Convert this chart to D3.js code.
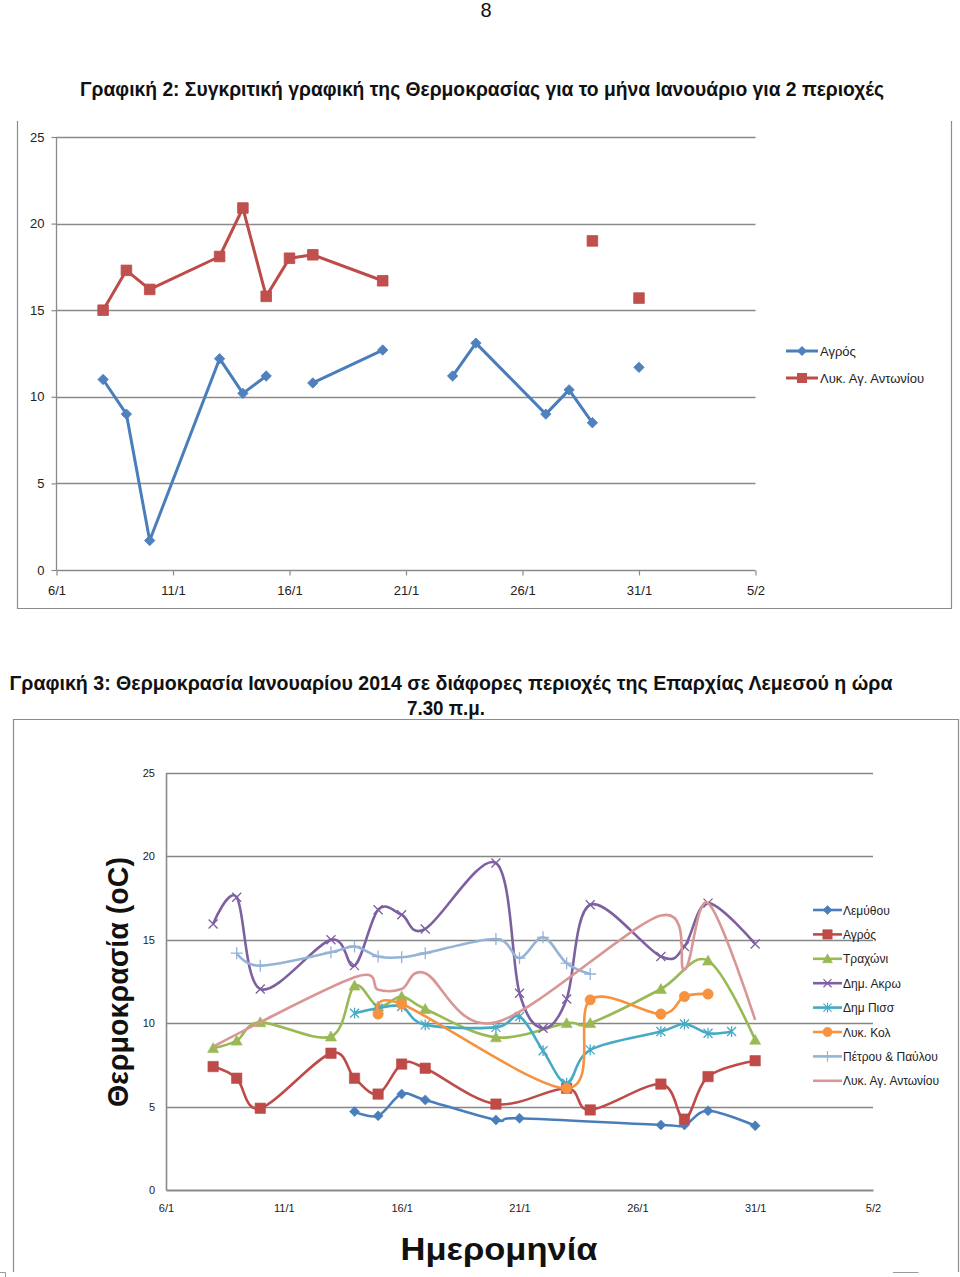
<!DOCTYPE html>
<html><head><meta charset="utf-8">
<script src="https://cdn.jsdelivr.net/npm/d3@7"></script>
<style>body{margin:0;background:#fff}svg{display:block}</style>
</head><body>
<script>
// ---------- shared axis data ----------
const tickDays = [6, 11, 16, 21, 26, 31, 36];
const tickLabels = ["6/1", "11/1", "16/1", "21/1", "26/1", "31/1", "5/2"];
const yTicks = [0, 5, 10, 15, 20, 25];

// ---------- Chart 2 data ----------
const c2Title = "Γραφική 2: Συγκριτική γραφική της Θερμοκρασίας για το μήνα Ιανουάριο για 2 περιοχές";
const c2Days = [8, 9, 10, 13, 14, 15, 16, 17, 20, 21, 23, 24, 27, 28, 29, 30, 31];
const c2Agros = [11.0, 9.0, 1.7, 12.2, 10.2, 11.2, null, 10.8, 12.7, null, 11.2, 13.1, 9.0, 10.4, 8.5, null, 11.7];
const c2Antoniou = [15.0, 17.3, 16.2, 18.1, 20.9, 15.8, 18.0, 18.2, 16.7, null, null, null, null, null, 19.0, null, 15.7];
const c2Names = ["Αγρός", "Λυκ. Αγ. Αντωνίου"];

// ---------- Chart 3 data ----------
const c3Title1 = "Γραφική 3: Θερμοκρασία Ιανουαρίου 2014 σε διάφορες περιοχές της Επαρχίας Λεμεσού η ώρα";
const c3Title2 = "7.30 π.μ.";
const c3YTitle = "Θερμοκρασία (oC)";
const c3XTitle = "Ημερομηνία";
const c3Days = [8, 9, 10, 13, 14, 15, 16, 17, 20, 21, 22, 23, 24, 27, 28, 29, 30, 31];
const c3Lemythou = [null, null, null, null, 4.7, 4.45, 5.75, 5.4, 4.2, 4.3, null, null, null, 3.9, 3.9, 4.75, null, 3.85];
const c3Agros    = [7.4, 6.7, 4.9, 8.2, 6.7, 5.75, 7.55, 7.3, 5.15, null, null, 6.1, 4.8, 6.35, 4.25, 6.8, null, 7.75];
const c3Trachoni = [8.5, 8.95, 10.05, 9.2, 12.25, 11.0, 11.6, 10.85, 9.15, null, null, 10.0, 10.0, 12.05, null, 13.75, null, 9.0];
const c3Akrw     = [15.95, 17.55, 12.05, 15.0, 13.45, 16.8, 16.5, 15.65, 19.6, 11.8, 9.7, 11.45, 17.1, 14.0, 14.6, 17.2, null, 14.75];
const c3Piss     = [null, null, null, null, 10.6, 10.9, 11.0, 9.9, 9.75, 10.4, 8.35, 6.4, 8.4, 9.5, 9.95, 9.4, 9.5, null];
const c3Kol      = [null, null, null, null, null, 10.55, 11.15, null, null, null, null, 6.1, 11.4, 10.55, 11.6, 11.75, null, null];
const c3Petrou   = [null, 14.2, 13.45, 14.25, 14.6, 14.0, 13.95, 14.2, 15.05, 13.9, 15.15, 13.6, 12.95, null, null, null, null, null];
const c3Antoniou = [8.6, null, null, null, 12.75, 12.0, 12.05, 13.0, 10.05, null, null, null, null, 16.45, 13.2, 17.2, null, 10.2];
const c3Names = ["Λεμύθου", "Αγρός", "Τραχώνι", "Δημ. Ακρω", "Δημ Πισσ", "Λυκ. Κολ", "Πέτρου & Παύλου", "Λυκ. Αγ. Αντωνίου"];

// ---------- styles ----------
const colors = ["#4A7EBB", "#BE4B48", "#98B954", "#7D60A0", "#46AAC5", "#F69240", "#95B3D7", "#D99694"];
const c3Markers = ["diamond", "square", "triangle", "x", "star", "circle", "plus", "none"];
const FONT = "'Liberation Sans', Arial, sans-serif";

function markerPath(t, r) {
  switch (t) {
    case "diamond": return `M0,${-r}L${r},0L0,${r}L${-r},0Z`;
    case "square": return `M${-r},${-r}H${r}V${r}H${-r}Z`;
    case "triangle": return `M0,${-r}L${r},${r * 0.8}L${-r},${r * 0.8}Z`;
    case "x": return `M${-r},${-r}L${r},${r}M${-r},${r}L${r},${-r}`;
    case "star": return `M${-r},${-r}L${r},${r}M${-r},${r}L${r},${-r}M0,${-r * 1.2}V${r * 1.2}`;
    case "circle": return `M${r},0A${r},${r} 0 1,1 ${-r},0A${r},${r} 0 1,1 ${r},0Z`;
    case "plus": return `M${-r * 1.2},0H${r * 1.2}M0,${-r * 1.2}V${r * 1.2}`;
    default: return "";
  }
}
const filledMarker = t => ["diamond", "square", "triangle", "circle"].includes(t);

const W = 960, H = 1277;
const svg = d3.select("body").append("svg").attr("width", W).attr("height", H)
  .style("font-family", FONT);

// page number
svg.append("text").attr("x", 486).attr("y", 17).attr("text-anchor", "middle")
  .attr("font-size", 20).attr("fill", "#111").text("8");

// ================= CHART 2 =================
{
  const g = svg.append("g");
  g.append("text").attr("x", 482).attr("y", 96).attr("text-anchor", "middle")
    .attr("font-size", 20).attr("font-weight", "bold").attr("fill", "#111")
    .attr("textLength", 804).attr("lengthAdjust", "spacingAndGlyphs").text(c2Title);
  // frame (no top edge)
  g.append("path").attr("d", "M17.5,121V608.5H951.5V121").attr("fill", "none")
    .attr("stroke", "#8c8c8c").attr("stroke-width", 1.2);

  const x = d3.scaleLinear().domain([6, 36]).range([56.5, 755.5]);
  const y = d3.scaleLinear().domain([0, 25]).range([570, 137]);

  // gridlines
  g.append("g").selectAll("line").data(yTicks.filter(d => d > 0)).join("line")
    .attr("x1", x(6)).attr("x2", x(36)).attr("y1", d => Math.round(y(d)) + 0.5).attr("y2", d => Math.round(y(d)) + 0.5)
    .attr("stroke", "#8a8a8a").attr("stroke-width", 1.3);

  const xAxis = d3.axisBottom(x).tickValues(tickDays).tickFormat((d, i) => tickLabels[i]).tickSize(5).tickPadding(10);
  const xa = g.append("g").attr("transform", `translate(0,${Math.round(y(0)) + 0.5})`).call(xAxis);
  const yAxis = d3.axisLeft(y).tickValues(yTicks).tickSize(5).tickPadding(7);
  const ya = g.append("g").attr("transform", `translate(${x(6)},0)`).call(yAxis);
  [xa, ya].forEach(a => {
    a.select(".domain").attr("stroke", "#8a8a8a").attr("stroke-width", 1.3);
    a.selectAll(".tick line").attr("stroke", "#8a8a8a").attr("stroke-width", 1.2);
    a.selectAll("text").attr("font-family", FONT).attr("font-size", 13).attr("fill", "#222");
  });
  ya.select(".domain").attr("d", `M0,${y(25)}V${y(0)}`);
  xa.select(".domain").attr("d", `M${x(6)},0H${x(36)}`);

  const series = [c2Agros, c2Antoniou];
  const mk = ["diamond", "square"];
  const fills = ["#4F81BD", "#C0504D"];
  const line = d3.line().defined(d => d.v != null).x(d => x(d.d)).y(d => y(d.v));
  series.forEach((vals, si) => {
    const pts = c2Days.map((d, i) => ({ d, v: vals[i] }));
    g.append("path").attr("d", line(pts)).attr("fill", "none").attr("stroke", colors[si])
      .attr("stroke-width", 3).attr("stroke-linejoin", "round");
    g.append("g").selectAll("path").data(pts.filter(p => p.v != null)).join("path")
      .attr("transform", p => `translate(${x(p.d)},${y(p.v)})`)
      .attr("d", markerPath(mk[si], si === 0 ? 5.2 : 5.3)).attr("fill", fills[si])
      .attr("stroke", colors[si]).attr("stroke-width", 0.8);
  });
  // legend
  const lg = g.append("g");
  c2Names.forEach((n, i) => {
    const ly = 351 + i * 27;
    lg.append("line").attr("x1", 786).attr("x2", 818).attr("y1", ly).attr("y2", ly)
      .attr("stroke", colors[i]).attr("stroke-width", 3);
    lg.append("path").attr("transform", `translate(802,${ly})`).attr("d", markerPath(mk[i], 5))
      .attr("fill", fills[i]);
    lg.append("text").attr("x", 820).attr("y", ly + 4.5).attr("font-size", 13).attr("fill", "#222")
      .text(n);
  });
}

// ================= CHART 3 =================
{
  const g = svg.append("g");
  g.append("text").attr("x", 451).attr("y", 690).attr("text-anchor", "middle")
    .attr("font-size", 20).attr("font-weight", "bold").attr("fill", "#111")
    .attr("textLength", 883).attr("lengthAdjust", "spacingAndGlyphs").text(c3Title1);
  g.append("text").attr("x", 446).attr("y", 715).attr("text-anchor", "middle")
    .attr("font-size", 20).attr("font-weight", "bold").attr("fill", "#111")
    .attr("textLength", 78).attr("lengthAdjust", "spacingAndGlyphs").text(c3Title2);
  // frame
  g.append("path").attr("d", "M13.5,1272V719.5H958.5V1272").attr("fill", "none")
    .attr("stroke", "#8c8c8c").attr("stroke-width", 1.2);
  // page corner marks
  g.append("path").attr("d", "M0,1272.5H5.5V1277M893,1272.5H918.5").attr("fill", "none")
    .attr("stroke", "#9a9a9a").attr("stroke-width", 1);

  const x = d3.scaleLinear().domain([6, 36]).range([166, 873]);
  const y = d3.scaleLinear().domain([0, 25]).range([1190, 773]);

  g.append("g").selectAll("line").data(yTicks.filter(d => d > 0)).join("line")
    .attr("x1", x(6)).attr("x2", x(36)).attr("y1", d => Math.round(y(d)) + 0.5).attr("y2", d => Math.round(y(d)) + 0.5)
    .attr("stroke", "#868686").attr("stroke-width", 1.3);

  const xAxis = d3.axisBottom(x).tickValues(tickDays).tickFormat((d, i) => tickLabels[i]).tickSize(0).tickPadding(14);
  const xa = g.append("g").attr("transform", `translate(0,${y(0)})`).call(xAxis);
  const yAxis = d3.axisLeft(y).tickValues(yTicks).tickSize(0).tickPadding(11);
  const ya = g.append("g").attr("transform", `translate(${x(6)},0)`).call(yAxis);
  [xa, ya].forEach(a => {
    a.select(".domain").attr("stroke", "#8a8a8a").attr("stroke-width", 1.6);
    a.selectAll("text").attr("font-family", FONT).attr("font-size", 11).attr("fill", "#1a1a1a");
  });
  xa.select(".domain").attr("stroke-width", 2.2);

  // axis titles
  g.append("text").attr("transform", `translate(128,982) rotate(-90)`).attr("text-anchor", "middle")
    .attr("font-size", 29).attr("font-weight", "bold").attr("fill", "#111")
    .attr("textLength", 250).attr("lengthAdjust", "spacingAndGlyphs").text(c3YTitle);
  g.append("text").attr("x", 499).attr("y", 1260).attr("text-anchor", "middle")
    .attr("font-size", 31).attr("font-weight", "bold").attr("fill", "#111")
    .attr("textLength", 197).attr("lengthAdjust", "spacingAndGlyphs").text(c3XTitle);

  const series = [c3Lemythou, c3Agros, c3Trachoni, c3Akrw, c3Piss, c3Kol, c3Petrou, c3Antoniou];
  const line = d3.line().x(d => x(d.d)).y(d => y(d.v)).curve(d3.curveCardinal.tension(0));
  const msize = [5, 5.2, 5.5, 4.5, 4.5, 5.2, 5, 0];
  series.forEach((vals, si) => {
    const pts = c3Days.map((d, i) => ({ d, v: vals[i] })).filter(p => p.v != null);
    const sg = g.append("g");
    sg.append("path").attr("d", line(pts)).attr("fill", "none").attr("stroke", colors[si])
      .attr("stroke-width", 2.6).attr("stroke-linejoin", "round");
    const t = c3Markers[si];
    if (t !== "none") {
      sg.append("g").selectAll("path").data(pts).join("path")
        .attr("transform", p => `translate(${x(p.d)},${y(p.v)})`)
        .attr("d", markerPath(t, msize[si]))
        .attr("fill", filledMarker(t) ? colors[si] : "none")
        .attr("stroke", colors[si]).attr("stroke-width", filledMarker(t) ? 0.6 : 1.3);
    }
  });

  // legend
  const lg = g.append("g");
  c3Names.forEach((n, i) => {
    const ly = 910 + i * 24.4;
    lg.append("line").attr("x1", 813).attr("x2", 842).attr("y1", ly).attr("y2", ly)
      .attr("stroke", colors[i]).attr("stroke-width", 2.6);
    const t = c3Markers[i];
    if (t !== "none") {
      lg.append("path").attr("transform", `translate(827.5,${ly})`).attr("d", markerPath(t, msize[i] * 0.9))
        .attr("fill", filledMarker(t) ? colors[i] : "none").attr("stroke", colors[i])
        .attr("stroke-width", filledMarker(t) ? 0.6 : 1.2);
    }
    lg.append("text").attr("x", 843).attr("y", ly + 4.5).attr("font-size", 12).attr("fill", "#222").text(n);
  });
}
</script>
</body></html>
